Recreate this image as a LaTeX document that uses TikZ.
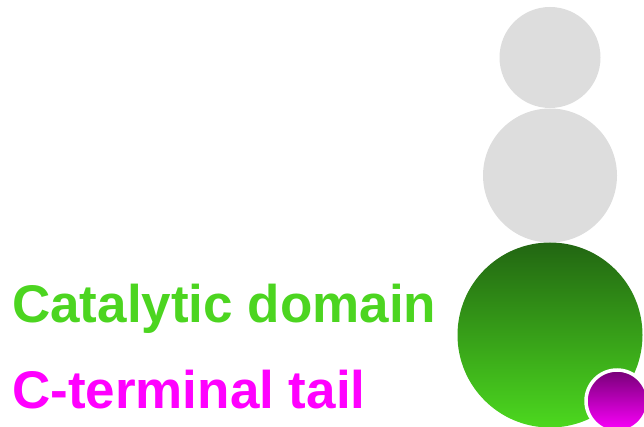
\documentclass[tikz,border=0pt]{standalone}
\usepackage{fontspec}
\setmainfont{Liberation Sans}
\definecolor{greytone}{HTML}{DDDDDD}
\definecolor{greentext}{HTML}{4CD520}
\definecolor{greentop}{HTML}{226612}
\definecolor{greenbot}{HTML}{4CD81F}
\definecolor{magtop}{HTML}{760076}
\definecolor{magbot}{HTML}{FF00FF}
\begin{document}
\begin{tikzpicture}[x=1pt,y=-1pt,
  ball/.style={circle, inner sep=0pt, draw=none},
  label text/.style={anchor=base west, inner sep=0pt, font=\fontsize{53}{60}\selectfont\bfseries}]
\useasboundingbox (0,0) rectangle (644,427);
\clip (0,0) rectangle (644,427);
\node[ball, fill=greytone, minimum size=101pt] (top) at (550,57.5) {};
\node[ball, fill=greytone, minimum size=134pt] (mid) at (550,175.5) {};
\node[ball, top color=greentop, bottom color=greenbot, minimum size=185pt] (cat) at (550,335) {};
\node[ball, top color=magtop, bottom color=magbot, draw=white, line width=3.5pt, minimum size=62pt] (tail) at (617,401) {};
\node[label text, text=greentext] (catlabel) at (12,322) {Catalytic domain};
\node[label text, text=magbot] (taillabel) at (12,408) {C-terminal tail};
\end{tikzpicture}
\end{document}
